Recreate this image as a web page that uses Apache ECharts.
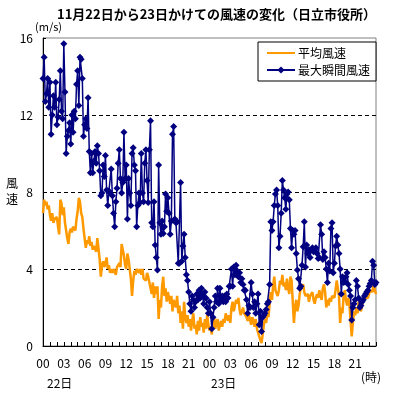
<!DOCTYPE html>
<html>
<head>
<meta charset="utf-8">
<script src="https://cdn.jsdelivr.net/npm/echarts@6/dist/echarts.min.js"></script>
<style>
  html, body { margin: 0; padding: 0; background: #fff; }
  #main { width: 399px; height: 399px; }
</style>
</head>
<body>
<div id="main"></div>
<script>
// 10分ごとの観測 (22日00:00 ～ 24日00:00)
var days = ['22日', '23日'];
var hourLabels = ['00', '03', '06', '09', '12', '15', '18', '21'];
var yTicks = [0, 4, 8, 12, 16];

// 平均風速 (m/s)
var avgWind = [
  6.9, 7.6, 7.3, 7.5, 7.1, 7.3, 6.8, 6.5, 6.9, 6.4, 6.6, 6.5, 6.7, 6.2, 5.8, 7.6, 7.4, 6.8,
  7.2, 6.4, 6.0, 5.6, 5.3, 5.9, 6.1, 5.9, 6.2, 6.3, 6.0, 6.6, 7.0, 7.7, 7.5, 6.9, 6.7, 6.1,
  5.6, 5.1, 5.5, 5.3, 5.7, 5.2, 5.4, 5.0, 5.2, 5.3, 4.9, 5.6, 5.5, 4.5, 3.6, 4.2, 4.4, 4.1,
  4.3, 4.6, 4.0, 4.2, 3.8, 4.0, 3.8, 4.0, 3.9, 3.7, 4.1, 4.0, 4.3, 4.1, 5.3, 5.0, 4.7, 4.2,
  4.0, 4.8, 4.5, 4.6, 3.5, 2.6, 3.4, 3.9, 3.7, 4.0, 4.1, 3.8, 4.0, 3.7, 4.0, 3.5, 3.6, 3.4,
  3.8, 3.6, 3.3, 3.0, 2.7, 3.3, 2.5, 3.1, 2.7, 3.1, 1.4, 2.4, 2.0, 3.1, 3.6, 2.6, 3.0, 2.3,
  2.8, 2.5, 2.2, 2.6, 1.8, 2.4, 2.2, 2.0, 2.6, 1.7, 2.1, 1.2, 1.8, 0.9, 2.3, 1.5, 1.2, 1.6,
  1.0, 1.4, 0.8, 1.3, 1.7, 0.9, 1.1, 0.6, 1.3, 0.8, 1.5, 1.0, 1.2, 0.7, 1.4, 0.9, 1.6, 1.1,
  0.8, 1.0, 0.6, 1.3, 1.5, 0.9, 1.2, 1.4, 0.8, 1.1, 1.3, 1.0, 1.4, 1.2, 1.7, 1.5, 1.3, 1.6,
  1.2, 2.0, 2.3, 1.8, 2.1, 2.4, 2.2, 2.5, 1.9, 1.6, 1.8, 2.0, 1.7, 1.8, 1.5, 1.3, 1.6, 1.4,
  1.1, 1.5, 1.3, 1.0, 1.4, 0.9, 0.8, 0.5, 0.3, 0.15, 0.6, 1.1, 1.4, 1.2, 1.7, 1.5, 2.2, 2.8,
  2.4, 3.1, 3.6, 2.9, 3.0, 2.6, 2.9, 3.4, 3.2, 3.7, 3.1, 3.3, 2.9, 3.5, 3.0, 2.7, 3.6, 3.4,
  2.3, 1.2, 2.0, 2.4, 1.8, 2.1, 2.7, 3.0, 2.9, 3.2, 2.8, 2.6, 2.5, 2.7, 2.3, 2.6, 2.5, 2.8,
  2.4, 2.2, 2.5, 2.7, 2.5, 2.9, 2.6, 2.4, 3.0, 3.2, 2.8, 2.0, 2.4, 2.1, 2.5, 2.3, 2.6, 2.7,
  2.5, 2.9, 3.4, 3.0, 2.6, 1.2, 2.0, 1.7, 2.6, 2.9, 2.4, 2.1, 2.5, 2.2, 1.3, 0.5, 1.2, 1.8,
  1.6, 2.0, 1.7, 2.3, 2.0, 1.8, 2.1, 2.4, 2.3, 2.5, 2.4, 2.5, 2.6, 2.9, 3.0, 2.8, 3.3, 2.9,
  2.7
];

// 最大瞬間風速 (m/s)
var maxGust = [
  13.9, 15.0, 12.7, 13.1, 13.9, 12.4, 13.7, 11.0, 12.0, 13.0, 12.4, 13.7, 11.5, 11.9, 12.8, 14.3, 12.2, 11.8,
  15.7, 13.2, 10.0, 10.9, 11.2, 11.6, 10.5, 12.0, 11.1, 12.2, 11.8, 13.6, 14.3, 12.5, 15.0, 14.9, 13.9, 10.9,
  11.5, 11.8, 11.3, 12.9, 10.1, 9.0, 10.0, 9.0, 9.6, 10.1, 9.5, 10.4, 10.0, 9.1, 7.8, 7.95, 9.4, 8.8,
  9.9, 8.1, 7.3, 8.05, 7.95, 9.2, 7.8, 6.9, 6.2, 7.5, 8.2, 9.5, 10.2, 8.7, 7.95, 8.5, 11.1, 8.7,
  9.4, 6.6, 8.7, 7.95, 7.3, 10.0, 10.3, 9.4, 9.1, 6.2, 7.3, 7.95, 7.45, 10.0, 7.95, 7.5, 9.5, 10.2,
  8.6, 7.45, 10.2, 11.7, 6.4, 6.2, 7.5, 5.25, 4.6, 3.95, 9.4, 6.4, 5.8, 6.5, 5.85, 6.2, 7.9, 7.0,
  7.7, 6.9, 5.8, 6.5, 11.0, 11.4, 6.6, 6.4, 6.45, 4.3, 4.3, 8.5, 4.4, 5.2, 5.8, 4.6, 3.7, 3.4,
  2.8, 2.2, 1.8, 2.6, 2.4, 2.0, 2.3, 2.7, 2.4, 2.9, 2.5, 3.0, 2.6, 2.2, 2.8, 2.5, 2.0, 1.7,
  2.3, 1.7, 0.9, 1.5, 2.0, 2.6, 2.3, 3.0, 2.2, 3.0, 2.4, 2.6, 2.3, 2.6, 2.3, 2.7, 2.5, 3.1,
  3.1, 4.0, 3.1, 4.1, 3.7, 4.2, 3.9, 3.6, 3.8, 3.3, 3.5, 3.2, 2.9, 2.9, 2.4, 1.7, 2.1, 2.0,
  3.3, 2.7, 2.0, 2.3, 1.7, 2.2, 2.7, 1.1, 1.8, 0.75, 1.5, 1.6, 1.7, 1.9, 2.2, 2.3, 3.2, 6.45,
  6.0, 6.45, 7.3, 7.9, 8.1, 7.3, 5.1, 5.7, 6.9, 8.6, 8.1, 7.7, 7.1, 7.9, 8.0, 7.6, 6.1, 5.1,
  6.0, 5.8, 6.0, 4.8, 3.95, 3.5, 3.0, 3.1, 4.2, 5.15, 6.45, 4.1, 5.25, 4.8, 5.0, 4.6, 5.0, 5.1,
  4.9, 5.0, 5.1, 4.8, 4.55, 4.6, 6.3, 5.8, 4.5, 4.9, 4.6, 4.0, 3.3, 4.3, 3.9, 6.1, 6.4, 3.8,
  4.3, 5.2, 5.7, 5.25, 4.8, 4.0, 2.7, 3.6, 3.3, 3.35, 3.6, 3.8, 3.2, 2.9, 2.6, 1.35, 2.0, 2.2,
  2.4, 3.4, 3.1, 2.5, 2.0, 2.1, 2.3, 2.4, 2.6, 2.7, 2.8, 2.9, 3.1, 3.25, 3.4, 4.4, 4.2, 3.2,
  3.3
];

// 時刻カテゴリ (10分刻み)
var times = [];
for (var d = 0; d < days.length; d++) {
  for (var m = 0; m < 24 * 60; m += 10) {
    var hh = ('0' + Math.floor(m / 60)).slice(-2);
    var mm = ('0' + (m % 60)).slice(-2);
    times.push(days[d] + ' ' + hh + ':' + mm);
  }
}
times.push('24日 00:00');

var chart = echarts.init(document.getElementById('main'));
var jpFont = '"Noto Sans CJK JP", sans-serif';

var option = {
  animation: false,
  backgroundColor: '#fff',
  textStyle: { fontFamily: jpFont, color: '#000' },
  title: {
    text: '11月22日から23日かけての風速の変化（日立市役所）',
    left: 52,
    top: 3,
    textStyle: { fontSize: 13, fontWeight: 'bold', color: '#000', fontFamily: jpFont }
  },
  legend: {
    orient: 'vertical',
    left: 258,
    top: 42,
    padding: [5, 6, 5, 8],
    itemGap: 5,
    itemWidth: 28,
    itemHeight: 9,
    backgroundColor: '#fff',
    borderColor: '#000',
    borderWidth: 1,
    borderRadius: 0,
    textStyle: { fontSize: 12, color: '#000', fontFamily: jpFont, padding: [0, 0, 0, -2] },
    data: [
      { name: '平均風速', itemStyle: { opacity: 0 } },
      { name: '最大瞬間風速' }
    ]
  },
  grid: {
    left: 43,
    right: 23,
    top: 38,
    bottom: 53,
    show: true,
    borderColor: '#808080',
    borderWidth: 1
  },
  xAxis: {
    type: 'category',
    boundaryGap: false,
    data: times,
    axisLine: { lineStyle: { color: '#000', width: 1 } },
    axisTick: {
      inside: true,
      length: 4,
      interval: function (i) { return i % 6 === 0; },
      lineStyle: { color: '#000' }
    },
    axisLabel: {
      interval: function (i) { return i % 18 === 0 && i < 288; },
      formatter: function (v) { return v.slice(-5, -3); },
      margin: 11,
      fontSize: 12,
      color: '#000',
      fontFamily: jpFont
    },
    splitLine: { show: false }
  },
  yAxis: {
    type: 'value',
    min: yTicks[0],
    max: yTicks[yTicks.length - 1],
    interval: 4,
    axisLine: { show: true, lineStyle: { color: '#000', width: 1 } },
    axisTick: { show: true, inside: true, length: 3, lineStyle: { color: '#000' } },
    axisLabel: { margin: 10, fontSize: 12, color: '#000', fontFamily: jpFont },
    splitLine: {
      show: true,
      lineStyle: {
        color: ['rgba(0,0,0,0)', '#000', '#000', '#000', 'rgba(0,0,0,0)'],
        type: [4, 3],
        width: 1
      }
    }
  },
  graphic: [
    { type: 'text', left: 35, top: 21, style: { text: '(m/s)', font: '11px ' + jpFont, fill: '#000' } },
    { type: 'text', left: 6, top: 175, style: { text: '風\n速', font: '12px ' + jpFont, fill: '#000', lineHeight: 16 } },
    { type: 'text', left: 47, top: 377, style: { text: days[0], font: '12px ' + jpFont, fill: '#000' } },
    { type: 'text', left: 211, top: 377, style: { text: days[1], font: '12px ' + jpFont, fill: '#000' } },
    { type: 'text', left: 361, top: 371, style: { text: '(時)', font: '12px ' + jpFont, fill: '#000' } }
  ],
  series: [
    {
      name: '平均風速',
      type: 'line',
      data: avgWind,
      symbol: 'none',
      lineStyle: { color: '#FF9900', width: 2.5 },
      itemStyle: { color: '#FF9900' },
      z: 2
    },
    {
      name: '最大瞬間風速',
      type: 'line',
      data: maxGust,
      symbol: 'diamond',
      symbolSize: [7, 7],
      showAllSymbol: true,
      lineStyle: { color: '#000080', width: 1.5 },
      itemStyle: { color: '#000080' },
      z: 3
    }
  ]
};

chart.setOption(option);
</script>
</body>
</html>
